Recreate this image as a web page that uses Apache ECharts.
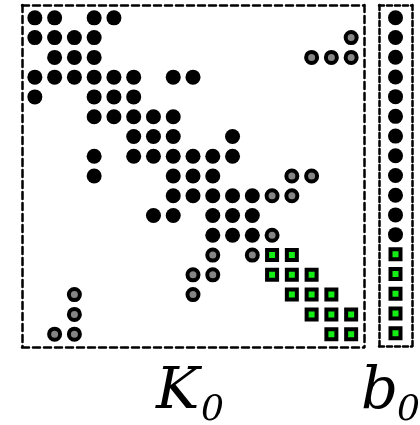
<!DOCTYPE html>
<html>
<head>
<meta charset="utf-8">
<script src="https://cdn.jsdelivr.net/npm/echarts@6/dist/echarts.min.js"></script>
<style>
  html, body { margin: 0; padding: 0; background: #fff; }
  #chart { width: 420px; height: 425px; }
</style>
</head>
<body>
<div id="chart"></div>
<script>
// matrix K0: for each row, which columns hold an entry of each kind
var blackRows = [
	[0, 1, 3, 4],
	[0, 1, 2, 3],
	[1, 2, 3],
	[0, 1, 2, 3, 4, 5, 7, 8],
	[0, 3, 4, 5],
	[3, 4, 5, 6, 7],
	[5, 6, 7, 10],
	[3, 5, 6, 7, 8, 9, 10],
	[3, 7, 8, 9],
	[7, 8, 9, 10, 11],
	[6, 7, 9, 10, 11],
	[9, 10, 11],
	[], [], [], [], []
];
var grayRows = [
	[],
	[16],
	[14, 15, 16],
	[], [], [], [], [],
	[13, 14],
	[12, 13],
	[],
	[12],
	[9, 11],
	[8, 9],
	[2, 8],
	[2],
	[1, 2]
];
var greenRows = [
	[], [], [], [], [], [], [], [], [], [], [], [],
	[12, 13],
	[12, 13, 14],
	[13, 14, 15],
	[14, 15, 16],
	[15, 16]
];
// vector b0: row indices of each kind
var b0Black = [0, 1, 2, 3, 4, 5, 6, 7, 8, 9, 10, 11];
var b0Green = [12, 13, 14, 15, 16];

var N = 17;

function toPoints(rows){
	var pts = [];
	for (var r = 0; r < rows.length; r++) {
		for (var i = 0; i < rows[r].length; i++) {
			pts.push([rows[r][i], r]);
		}
	}
	return pts;
}
function vecPoints(list){
	return list.map(function(r){ return [0, r]; });
}

var dashK = { color: '#000', width: 2.5, type: [7, 4] };
var dashB = { color: '#000', width: 2.5, type: [5, 3] };

function edgeAxis(grid, pos, min, max, dash, inverse){
	return {
		type: 'value', gridIndex: grid, position: pos,
		min: min, max: max, inverse: !!inverse,
		axisLine: { show: true, onZero: false, lineStyle: dash },
		axisTick: { show: false },
		axisLabel: { show: false },
		splitLine: { show: false }
	};
}

var lo = -0.65, hi = N - 1 + 0.65;

var blackStyle = { color: '#000', opacity: 1 };
var grayStyle = { color: '#858585', borderColor: '#000', borderWidth: 4, opacity: 1 };
var greenStyle = { color: '#14ee14', borderColor: '#000', borderWidth: 4, opacity: 1 };

var option = {
	animation: false,
	backgroundColor: '#fff',
	grid: [
		{ left: 22, top: 5, width: 342, height: 342 },
		{ left: 379, top: 5, width: 33, height: 341 }
	],
	xAxis: [
		edgeAxis(0, 'bottom', lo, hi, dashK),
		edgeAxis(0, 'top', lo, hi, dashK),
		edgeAxis(1, 'bottom', -0.5, 0.5, dashB),
		edgeAxis(1, 'top', -0.5, 0.5, dashB)
	],
	yAxis: [
		edgeAxis(0, 'left', lo, hi, dashK, true),
		edgeAxis(0, 'right', lo, hi, dashK, true),
		edgeAxis(1, 'left', lo, hi, dashB, true),
		edgeAxis(1, 'right', lo, hi, dashB, true)
	],
	series: [
		{ type: 'scatter', xAxisIndex: 0, yAxisIndex: 0, symbol: 'circle', symbolSize: 15,
		  itemStyle: blackStyle, silent: true, data: toPoints(blackRows) },
		{ type: 'scatter', xAxisIndex: 0, yAxisIndex: 0, symbol: 'circle', symbolSize: 11,
		  itemStyle: grayStyle, silent: true, data: toPoints(grayRows) },
		{ type: 'scatter', xAxisIndex: 0, yAxisIndex: 0, symbol: 'rect', symbolSize: 10,
		  itemStyle: greenStyle, silent: true, data: toPoints(greenRows) },
		{ type: 'scatter', xAxisIndex: 2, yAxisIndex: 2, symbol: 'circle', symbolSize: 15,
		  itemStyle: blackStyle, silent: true, data: vecPoints(b0Black) },
		{ type: 'scatter', xAxisIndex: 2, yAxisIndex: 2, symbol: 'rect', symbolSize: 10,
		  itemStyle: greenStyle, silent: true, data: vecPoints(b0Green) }
	],
	graphic: [
		{ type: 'text', x: 156, y: 393, silent: true,
		  style: { text: 'K', font: 'italic 58px "DejaVu Serif"', fill: '#000', textAlign: 'left', textVerticalAlign: 'middle' } },
		{ type: 'text', x: 201, y: 411, silent: true,
		  style: { text: '0', font: 'italic 36px "DejaVu Serif"', fill: '#000', textAlign: 'left', textVerticalAlign: 'middle' } },
		{ type: 'text', x: 361, y: 393, silent: true,
		  style: { text: 'b', font: 'italic 58px "DejaVu Serif"', fill: '#000', textAlign: 'left', textVerticalAlign: 'middle' } },
		{ type: 'text', x: 397, y: 411, silent: true,
		  style: { text: '0', font: 'italic 36px "DejaVu Serif"', fill: '#000', textAlign: 'left', textVerticalAlign: 'middle' } }
	]
};

var myChart = echarts.init(document.getElementById('chart'));
myChart.setOption(option);
</script>
</body>
</html>
